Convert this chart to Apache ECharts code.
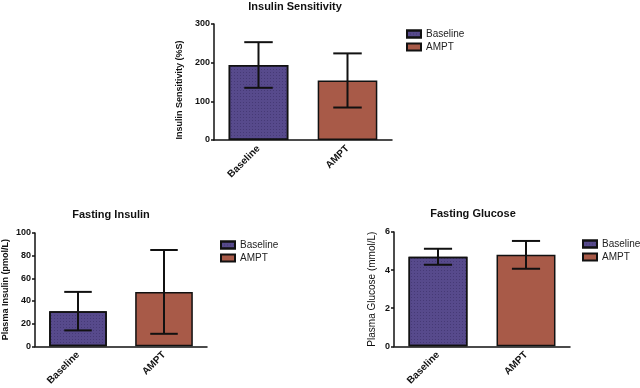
<!DOCTYPE html>
<html>
<head>
<meta charset="UTF-8">
<title>Insulin / Glucose</title>
<script src="https://cdn.jsdelivr.net/npm/echarts@6/dist/echarts.min.js"></script>
<style>
body { margin: 0; padding: 0; background: #fff; }
#main { width: 640px; height: 388px; }
</style>
</head>
<body>
<div id="main"></div>
<script>
// values
var categories = ['Baseline', 'AMPT'];
var sensMean = [194, 154];
var sensSd = [59, 70];
var insMean = [31, 48];
var insSd = [17, 37];
var gluMean = [4.7, 4.8];
var gluSd = [0.42, 0.73];

var purple = '#574a8c';
var brown = '#a85a48';
var font = 'Arial, "Liberation Sans", sans-serif';

var chart = echarts.init(document.getElementById('main'));

function renderErr(params, api) {
    var x = api.value(0);
    var top = api.coord([x, api.value(2)]);
    var bot = api.coord([x, api.value(1)]);
    var half = api.size([1, 0])[0] * 0.16;
    var st = { stroke: '#111', lineWidth: 2 };
    return {
        type: 'group',
        children: [
            { type: 'line', shape: { x1: top[0], y1: top[1], x2: bot[0], y2: bot[1] }, style: st },
            { type: 'line', shape: { x1: top[0] - half, y1: top[1], x2: top[0] + half, y2: top[1] }, style: st },
            { type: 'line', shape: { x1: bot[0] - half, y1: bot[1], x2: bot[0] + half, y2: bot[1] }, style: st }
        ]
    };
}

function errData(mean, sd) {
    return mean.map(function (m, i) { return [i, m - sd[i], m + sd[i]]; });
}

function xAx(idx) {
    return {
        type: 'category', gridIndex: idx, data: categories,
        axisLine: { lineStyle: { color: '#111', width: 1.5 } },
        axisTick: { alignWithLabel: true, length: 3, lineStyle: { color: '#111', width: 1.5 } },
        axisLabel: { rotate: 45, fontSize: 10, fontWeight: 'bold', color: '#111', fontFamily: font, margin: 7 }
    };
}

function yAx(idx, max, interval, name, gap, bold, pad) {
    return {
        type: 'value', gridIndex: idx, min: 0, max: max, interval: interval,
        name: name, nameLocation: 'middle', nameGap: gap,
        nameTextStyle: { fontSize: bold ? 9 : 10, fontWeight: bold ? 'bold' : 'normal', color: '#111', fontFamily: font, padding: pad || 0 },
        splitLine: { show: false },
        axisLine: { show: true, lineStyle: { color: '#111', width: 1.5 } },
        axisTick: { show: true, length: 3, lineStyle: { color: '#111', width: 1.5 } },
        axisLabel: { fontSize: 9, fontWeight: 'bold', color: '#111', fontFamily: font, margin: 4 }
    };
}

var decal = { symbol: 'rect', symbolSize: 1, dashArrayX: [1, 2], dashArrayY: [1, 2], color: 'rgba(20,10,50,0.25)' };

function bars(idx, mean) {
    return [
        {
            name: 'Baseline', type: 'bar', xAxisIndex: idx, yAxisIndex: idx,
            data: [mean[0], '-'], barWidth: '67%', barGap: '-100%',
            itemStyle: { color: purple, borderColor: '#111', borderWidth: 1.5, decal: decal }
        },
        {
            name: 'AMPT', type: 'bar', xAxisIndex: idx, yAxisIndex: idx,
            data: ['-', mean[1]], barWidth: '67%', barGap: '-100%',
            itemStyle: { color: brown, borderColor: '#111', borderWidth: 1.5 }
        }
    ];
}

function errSeries(idx, mean, sd) {
    return {
        type: 'custom', xAxisIndex: idx, yAxisIndex: idx, z: 5,
        renderItem: renderErr, data: errData(mean, sd)
    };
}

function legendAt(left, top) {
    return {
        data: categories, orient: 'vertical', left: left, top: top,
        icon: 'rect', itemWidth: 14, itemHeight: 7, itemGap: 3, selectedMode: false,
        textStyle: { fontSize: 10, color: '#222', fontFamily: font }
    };
}

function titleAt(text, x, y) {
    return {
        text: text, left: x, top: y, textAlign: 'center',
        textStyle: { fontSize: 11, fontWeight: 'bold', color: '#111', fontFamily: font }
    };
}

var option = {
    animation: false,
    title: [
        titleAt('Insulin Sensitivity', 290, -4),
        titleAt('Fasting Insulin', 106, 204),
        titleAt('Fasting Glucose', 468, 203)
    ],
    legend: [legendAt(401, 24), legendAt(215, 235), legendAt(577, 234)],
    grid: [
        { left: 214, width: 178, top: 24, height: 116 },
        { left: 32, width: 175, top: 233, height: 114 },
        { left: 394, width: 176, top: 232, height: 116 }
    ],
    xAxis: [xAx(0), xAx(1), xAx(2)],
    yAxis: [
        yAx(0, 300, 100, 'Insulin Sensitivity (%S)', 30, true, [0, 16, 0, 0]),
        yAx(1, 100, 20, 'Plasma Insulin (pmol/L)', 25, true),
        yAx(2, 6, 2, 'Plasma Glucose (mmol/L)', 17, false)
    ],
    series: [].concat(
        bars(0, sensMean), [errSeries(0, sensMean, sensSd)],
        bars(1, insMean), [errSeries(1, insMean, insSd)],
        bars(2, gluMean), [errSeries(2, gluMean, gluSd)]
    )
};
chart.setOption(option);
</script>
</body>
</html>
